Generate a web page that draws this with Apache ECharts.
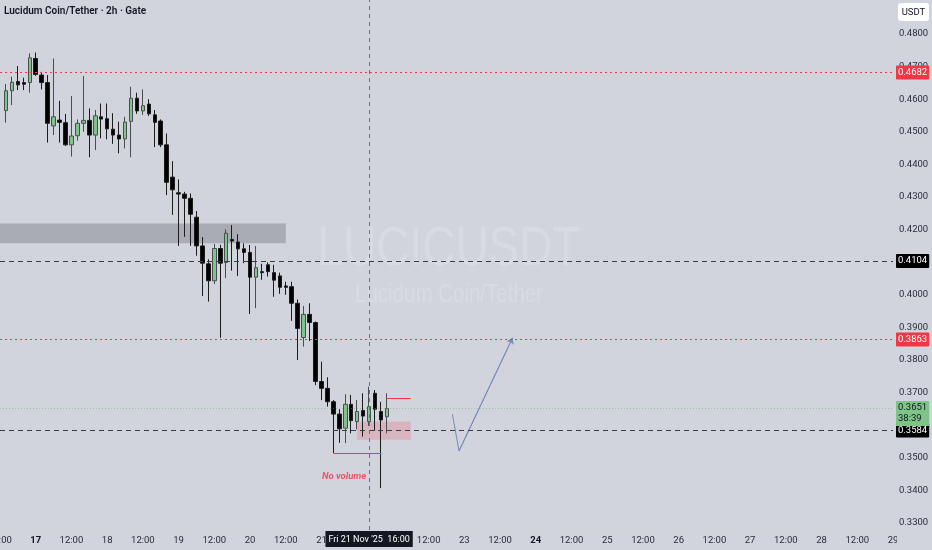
<!DOCTYPE html>
<html><head><meta charset="utf-8">
<script src="https://cdn.jsdelivr.net/npm/echarts@6/dist/echarts.min.js"></script>
<style>html,body{margin:0;padding:0;background:#d1d4dc;overflow:hidden}#c{width:932px;height:550px}</style>
</head><body><div id="c"></div>
<script>
// 2h candles; slot 0 = 17 Nov 2025 00:00, one slot = 2 hours
const firstSlot = -5; // 16 Nov 14:00
const opens  = [0.4565,0.4626,0.4654,0.4651,0.4651,0.4725,0.4674,0.4651,0.4518,0.4536,0.4528,0.4460,0.4488,0.4526,0.4535,0.4490,0.4546,0.4540,0.4508,0.4490,0.4478,0.4532,0.4603,0.4564,0.4585,0.4552,0.4533,0.4460,0.4361,0.4313,0.4309,0.4296,0.4238,0.4150,0.4095,0.4043,0.4142,0.4099,0.4170,0.4162,0.4141,0.4130,0.4054,0.4071,0.4092,0.4068,0.4058,0.4027,0.4025,0.3974,0.3869,0.3940,0.3915,0.3734,0.3713,0.3672,0.3634,0.3591,0.3664,0.3611,0.3645,0.3611,0.3698,0.3642,0.3626];
const closes = [0.4626,0.4652,0.4644,0.4646,0.4727,0.4676,0.4651,0.4526,0.4546,0.4529,0.4460,0.4487,0.4526,0.4535,0.4490,0.4549,0.4539,0.4509,0.4490,0.4478,0.4530,0.4603,0.4564,0.4580,0.4555,0.4529,0.4460,0.4345,0.4322,0.4309,0.4296,0.4247,0.4150,0.4097,0.4043,0.4142,0.4097,0.4189,0.4165,0.4141,0.4130,0.4054,0.4083,0.4068,0.4071,0.4045,0.4023,0.4023,0.3974,0.3897,0.3940,0.3915,0.3734,0.3713,0.3672,0.3634,0.3589,0.3664,0.3614,0.3642,0.3628,0.3657,0.3649,0.3616,0.3651];
const lows   = [0.4528,0.4582,0.4628,0.4628,0.4620,0.4672,0.4630,0.4467,0.4490,0.4467,0.4457,0.4424,0.4473,0.4500,0.4422,0.4444,0.4480,0.4477,0.4463,0.4434,0.4449,0.4422,0.4555,0.4552,0.4549,0.4453,0.4453,0.4306,0.4245,0.4150,0.4178,0.4150,0.4120,0.3996,0.3979,0.4033,0.3868,0.4051,0.4074,0.4058,0.4097,0.3941,0.3959,0.4046,0.4056,0.3994,0.4003,0.4000,0.3920,0.3800,0.3841,0.3858,0.3723,0.3677,0.3657,0.3515,0.3546,0.3545,0.3575,0.3587,0.3565,0.3598,0.3583,0.3407,0.3575];
const highs  = [0.4647,0.4669,0.4702,0.4666,0.4741,0.4743,0.4684,0.4674,0.4725,0.4595,0.4555,0.4610,0.4538,0.4671,0.4572,0.4567,0.4587,0.4587,0.4557,0.4531,0.4546,0.4638,0.4620,0.4630,0.4600,0.4567,0.4538,0.4495,0.4410,0.4354,0.4316,0.4311,0.4257,0.4177,0.4109,0.4156,0.4153,0.4201,0.4214,0.4186,0.4158,0.4153,0.4150,0.4095,0.4099,0.4092,0.4068,0.4040,0.4040,0.3986,0.3966,0.3974,0.3918,0.3795,0.3747,0.3677,0.3649,0.3695,0.3693,0.3677,0.3698,0.3718,0.3708,0.3672,0.3698];

const priceTicks = [0.33,0.34,0.35,0.36,0.37,0.38,0.39,0.40,0.41,0.42,0.43,0.44,0.45,0.46,0.47,0.48];
const timeTicks = [-6,0,6,12,18,24,30,36,42,48,54,60,66,72,78,84,90,96,102,108,114,120,126,132,138,144];
const boldDays = [17, 24];

const redLevels = [0.4682, 0.3863];
const blackLevels = [0.4104, 0.3584];
const currentPrice = 0.3651;
const countdown = '38:39';
const crosshairSlot = 56; // Fri 21 Nov 16:00
const crosshairText = "Fri 21 Nov '25  16:00";

const supplyZone = [[-6, 0.4219], [42, 0.4158]];
const demandBox = [[54, 0.3611], [63, 0.3555]];
const lowLine = [[50, 0.3515], [58, 0.3515]];
const highLine = [[59, 0.36825], [63, 0.36825]];
const arrowPath = [[70, 0.3633], [71.1, 0.3521], [80.1, 0.3868]];
const notePoint = [51.8, 0.3441];
const noteText = 'No volume';

const candles = opens.map((o, i) => [firstSlot + i, o, closes[i], lows[i], highs[i]]);

const BG = '#d1d4dc';
const FONT = 'Roboto, "Liberation Sans", sans-serif';
const RED = '#f23645';
const FS = 9.5;

function lvlLabel(bg, fg) {
  return { show: true, position: 'end', distance: 3, formatter: p => Number(p.value).toFixed(4),
    backgroundColor: bg, color: fg, fontSize: FS, fontFamily: FONT, padding: [2, 2, 2, 2], borderRadius: 1 };
}

const markLineData = [];
redLevels.forEach(v => markLineData.push({ yAxis: v, lineStyle: { color: RED, type: [2, 3], width: 1 }, label: lvlLabel(RED, '#fff') }));
blackLevels.forEach(v => markLineData.push({ yAxis: v, lineStyle: { color: '#3a3d45', type: [5, 4], width: 1 }, label: lvlLabel('#000', '#fff') }));
markLineData.push({ yAxis: currentPrice, lineStyle: { color: 'rgba(110,180,110,0.55)', type: [1, 2], width: 1 },
  label: { show: true, position: 'end', distance: 3, formatter: p => Number(p.value).toFixed(4) + '\n' + countdown,
    backgroundColor: '#7ec488', color: '#131722', fontSize: FS, fontFamily: FONT, lineHeight: 11, padding: [2, 2, 1, 2], offset: [0, 5] } });

const chart = echarts.init(document.getElementById('c'), null, { renderer: 'canvas' });
chart.setOption({
  animation: false,
  backgroundColor: BG,
  title: { text: 'Lucidum Coin/Tether · 2h · Gate', left: 4, top: 6, padding: 0,
    textStyle: { fontSize: 10, fontWeight: 600, color: '#131722', fontFamily: FONT } },
  grid: { left: 0, right: 39, top: 0, bottom: 20, containLabel: false, outerBoundsMode: 'none' },
  xAxis: {
    type: 'value', min: -6, max: 144,
    axisLine: { show: false }, axisTick: { show: false }, splitLine: { show: false },
    axisLabel: {
      customValues: timeTicks, margin: 6, fontSize: FS, color: '#2a2e39', fontFamily: FONT,
      showMinLabel: true, showMaxLabel: true,
      formatter: v => {
        if (((v % 12) + 12) % 12 === 0) { const d = 17 + v / 12; return boldDays.includes(d) ? '{b|' + d + '}' : String(d); }
        return '12:00';
      },
      rich: { b: { fontWeight: 'bold', fontSize: FS, color: '#131722', fontFamily: FONT } }
    },
    axisPointer: {
      show: true, type: 'line', value: crosshairSlot, status: 'show', snap: false, triggerTooltip: false,
      lineStyle: { color: '#6f737d', type: [4, 4], width: 1 },
      label: { show: true, formatter: () => crosshairText, backgroundColor: '#131722', color: '#fff',
        fontSize: 9, fontFamily: FONT, padding: [4, 3, 3, 3], margin: 1, borderRadius: 0 }
    }
  },
  yAxis: {
    type: 'value', position: 'right', min: 0.327853, max: 0.490429, scale: true,
    axisLine: { show: false }, axisTick: { show: false }, splitLine: { show: false },
    axisPointer: { show: false },
    axisLabel: { customValues: priceTicks, formatter: v => v.toFixed(4), margin: 6, fontSize: FS, color: '#2a2e39', fontFamily: FONT }
  },
  graphic: [
    { type: 'text', z: 0, scaleX: 0.82, style: { text: 'LUCICUSDT', fill: 'rgba(255,255,255,0.17)', font: '56px "Liberation Sans", sans-serif', textAlign: 'center', textVerticalAlign: 'middle' }, position: [449, 250] },
    { type: 'text', z: 0, scaleX: 0.82, style: { text: 'Lucidum Coin/Tether', fill: 'rgba(255,255,255,0.17)', font: '25px "Liberation Sans", sans-serif', textAlign: 'center', textVerticalAlign: 'middle' }, position: [449, 295] },
    { type: 'rect', z: 100, shape: { x: 897, y: 531, width: 35, height: 19 }, style: { fill: BG } },
    { type: 'rect', z: 100, shape: { x: 898, y: 3, width: 31, height: 18, r: 3 }, style: { fill: '#ffffff' } },
    { type: 'text', z: 101, style: { text: 'USDT', fill: '#131722', font: '9.5px ' + FONT, textAlign: 'center', textVerticalAlign: 'middle' }, position: [913.5, 12.5] }
  ],
  series: [
    {
      type: 'candlestick', name: 'LUCICUSDT', z: 5, data: candles, encode: { x: 0, y: [1, 2, 3, 4] }, barWidth: 4,
      itemStyle: { color: '#7fc58a', color0: '#000000', borderColor: '#4a4d52', borderColor0: '#1c1c1c', borderWidth: 1 },
      markArea: { silent: true, z: 1, data: [
        [{ coord: supplyZone[0], itemStyle: { color: 'rgba(110,112,122,0.4)' } }, { coord: supplyZone[1] }],
        [{ coord: demandBox[0], itemStyle: { color: 'rgba(242,54,69,0.2)' } }, { coord: demandBox[1] }]
      ] },
      markLine: { silent: true, z: 20, precision: 5, symbol: ['none', 'none'], data: markLineData.concat([
        [{ coord: lowLine[0], lineStyle: { color: RED, type: 'solid', width: 1 }, label: { show: false } }, { coord: lowLine[1], lineStyle: { color: RED } }],
        [{ coord: highLine[0], lineStyle: { color: RED, type: 'solid', width: 1 }, label: { show: false } }, { coord: highLine[1], lineStyle: { color: RED } }]
      ]) }
    },
    {
      type: 'line', data: arrowPath, symbol: 'none', lineStyle: { color: '#7b88bf', width: 1 }, silent: true
    },
    {
      type: 'lines', coordinateSystem: 'cartesian2d', data: [{ coords: [arrowPath[1], arrowPath[2]] }],
      symbol: ['none', 'arrow'], symbolSize: 6, lineStyle: { color: '#7b88bf', width: 1, opacity: 1 }, silent: true
    },
    {
      type: 'scatter', data: [notePoint], symbolSize: 1, itemStyle: { color: 'rgba(0,0,0,0)' }, silent: true,
      label: { show: true, position: 'inside', formatter: noteText, color: RED, fontSize: 9.5, fontStyle: 'italic', fontWeight: 'bold', fontFamily: FONT }
    }
  ]
});
</script></body></html>
